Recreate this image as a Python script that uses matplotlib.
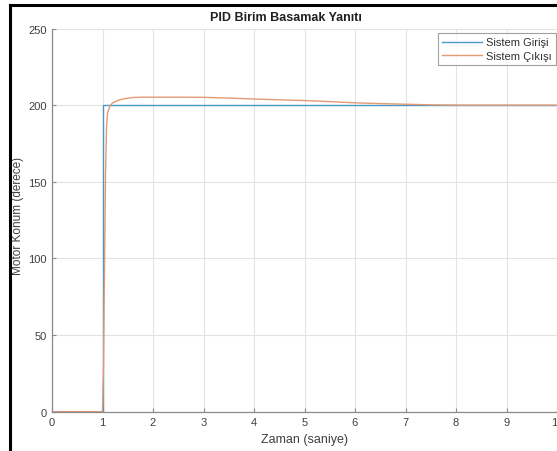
import matplotlib
matplotlib.use("Agg")
import matplotlib.pyplot as plt
from matplotlib.lines import Line2D

plt.rcParams['font.family'] = ['Liberation Sans', 'DejaVu Sans']

# Data
t_in = [0, 1.0, 1.0, 10]
y_in = [0, 0, 200, 200]
t_out = [0, 1.0, 1.02, 1.04, 1.06, 1.08, 1.10, 1.15, 1.2, 1.3, 1.4, 1.5, 1.6, 1.8,
         2.0, 2.5, 3.0, 3.2, 3.5, 4.0, 4.5, 5.0, 5.5, 6.0, 6.5, 7.0, 7.5, 8.0, 10.0]
y_out = [0, 0, 30, 95, 155, 186, 195, 199.5, 201.5, 203, 204, 204.5, 205, 205.2,
         205.2, 205.2, 205.1, 204.9, 204.6, 204, 203.5, 203, 202.3, 201.5, 201, 200.6,
         200.2, 200, 200]
x_ticks = [0, 1, 2, 3, 4, 5, 6, 7, 8, 9, 10]
y_ticks = [0, 50, 100, 150, 200, 250]
title = "PID Birim Basamak Yanıtı"
xlabel = "Zaman (saniye)"
ylabel = "Motor Konum (derece)"
labels = ["Sistem Girişi", "Sistem Çıkışı"]

W, H = 557, 452
fig = plt.figure(figsize=(W / 100, H / 100), dpi=100)
ax = fig.add_axes([52 / W, 1 - 412.7 / H, (557 - 52) / W, (412.7 - 29.5) / H])

c_in = '#4a97c4'
c_out = '#e39a72'
ax.plot(t_in, y_in, color=c_in, lw=1.0, label=labels[0])
ax.plot(t_out, y_out, color=c_out, lw=1.0, label=labels[1])

ax.set_xlim(0, 10)
ax.set_ylim(0, 250)
ax.set_xticks(x_ticks)
ax.set_yticks(y_ticks)
ax.grid(True, color='#e3e3e3', lw=0.8)
ax.set_axisbelow(True)
for s in ['top', 'right']:
    ax.spines[s].set_visible(False)
for s in ['left', 'bottom']:
    ax.spines[s].set_color('#8a8a8a')
    ax.spines[s].set_linewidth(0.9)
ax.tick_params(direction='in', length=3, colors='#8a8a8a', labelcolor='#404040',
               labelsize=8, width=0.8)
ax.tick_params(axis='x', pad=3.5)
ax.tick_params(axis='y', pad=4)

ax.set_xlabel(xlabel, fontsize=9, color='#404040')
ax.set_ylabel(ylabel, fontsize=8.5, color='#404040')
ax.xaxis.set_label_coords(0.5, -(440 - 412.7) / (412.7 - 29.5), transform=ax.transAxes)
ax.yaxis.set_label_coords((18.5 - 52) / 505, (412.7 - 216) / (412.7 - 29.5),
                          transform=ax.transAxes)
ax.xaxis.label.set_va('center')
ax.yaxis.label.set_va('center')
fig.text(286 / W, 1 - 18 / H, title, ha='center', va='center', fontsize=9,
         fontweight='bold', color='#202020')

leg = ax.legend(loc='upper right', bbox_to_anchor=(556 / W, 1 - 34 / H),
                bbox_transform=fig.transFigure, fontsize=8, frameon=True,
                fancybox=False, edgecolor='#8a8a8a', handlelength=3.6,
                borderpad=0.4, labelspacing=0.3, handletextpad=0.3,
                borderaxespad=0)
leg.get_frame().set_linewidth(0.8)
for t in leg.get_texts():
    t.set_color('#303030')

# black frame border
fig.add_artist(Line2D([10 / W, 10 / W], [0, 1 - 6 / H], color='black', lw=2.2,
                      transform=fig.transFigure))
fig.add_artist(Line2D([10 / W, 1], [1 - 6 / H, 1 - 6 / H], color='black', lw=2.2,
                      transform=fig.transFigure))

fig.savefig('out.png', dpi=100)
